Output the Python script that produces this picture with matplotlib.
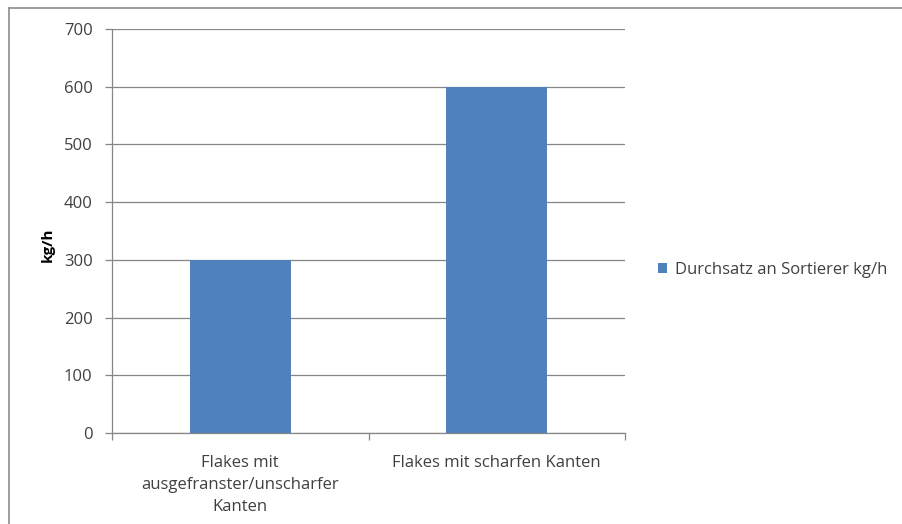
import matplotlib
matplotlib.use("Agg")
import matplotlib.pyplot as plt
from matplotlib.lines import Line2D

categories = ["Flakes mit\nausgefranster/unscharfer\nKanten", "Flakes mit scharfen Kanten"]
values = [300, 600]
series_name = "Durchsatz an Sortierer kg/h"
y_ticks = [0, 100, 200, 300, 400, 500, 600, 700]

plt.rcParams['font.family'] = ['Open Sans', 'DejaVu Sans']

fig = plt.figure(figsize=(9.02, 5.24), dpi=100)
W, H = 902, 524
ax = fig.add_axes([112 / W, 1 - 433 / H, (625 - 112) / W, (433 - 29) / H])

bar_color = "#4f81bd"
grid_color = "#868686"
text_color = "#404040"
fs = 12
x = list(range(len(categories)))
ax.bar(x, values, width=0.394, color=bar_color, label=series_name, zorder=3)

ax.set_xlim(-0.5, len(categories) - 0.5)
ax.set_ylim(0, 700)
ax.set_yticks(y_ticks)
ax.set_yticklabels([str(v) for v in y_ticks], fontsize=fs, color=text_color)
ax.yaxis.grid(True, color=grid_color, linewidth=0.9, zorder=0)
ax.set_axisbelow(True)

# x ticks at category boundaries, labels at centers
ax.set_xticks([i - 0.5 for i in range(len(categories) + 1)])
ax.set_xticklabels([])
ax.set_xticks(x, minor=True)
ax.set_xticklabels(categories, minor=True, fontsize=fs, color=text_color, linespacing=1.5)
ax.tick_params(axis='x', which='minor', length=0, pad=16)
ax.tick_params(axis='x', which='major', length=5, color=grid_color, width=0.9)
ax.tick_params(axis='y', length=5, color=grid_color, width=0.9, pad=9)

for s in ["top", "right"]:
    ax.spines[s].set_visible(False)
for s in ["left", "bottom"]:
    ax.spines[s].set_color(grid_color)
    ax.spines[s].set_linewidth(0.9)

ax.set_ylabel("kg/h", fontsize=fs - 1, fontweight="bold", color="black")
ax.yaxis.set_label_coords((48 - 112) / 513, (433 - 245) / 404)
ax.yaxis.label.set_verticalalignment("center")

leg = fig.legend(loc="center left", bbox_to_anchor=(643 / W, 1 - 270 / H), frameon=False,
                 fontsize=fs, handlelength=0.55, handleheight=0.55, handletextpad=0.45,
                 labelcolor=text_color)

# outer border (top and left visible)
fig.add_artist(Line2D([8.5 / W, 8.5 / W], [0, 1 - 7.5 / H], transform=fig.transFigure, color="#8c8c8c", linewidth=1.2))
fig.add_artist(Line2D([8.5 / W, 1], [1 - 7.5 / H, 1 - 7.5 / H], transform=fig.transFigure, color="#8c8c8c", linewidth=1.2))

fig.savefig("out.png", dpi=100)
